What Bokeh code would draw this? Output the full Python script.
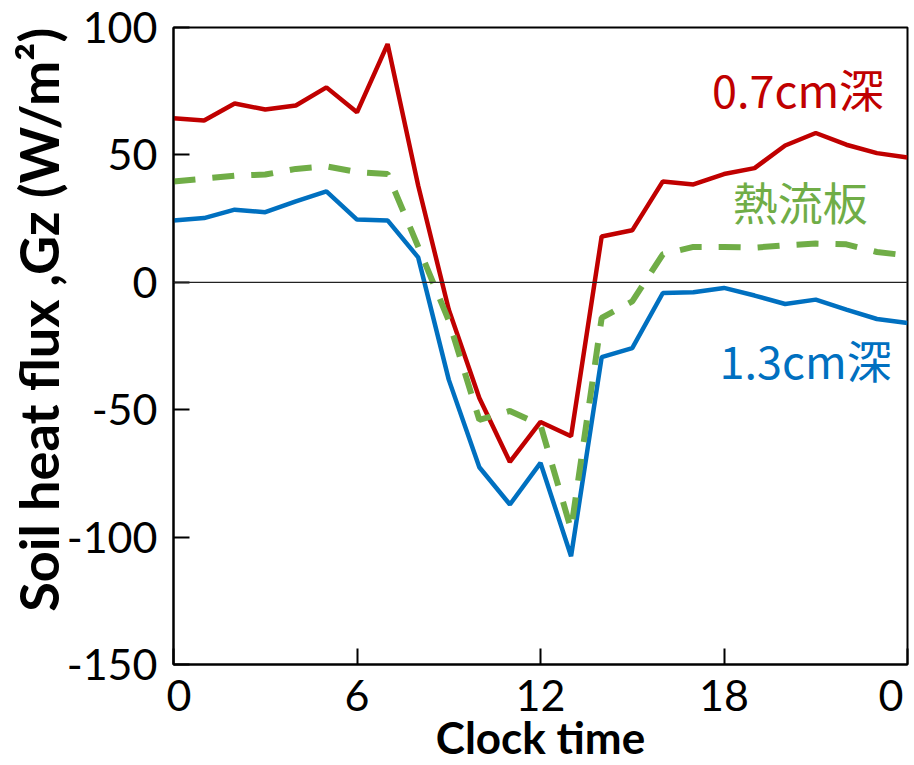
from bokeh.plotting import figure
from bokeh.models import Range1d, FixedTicker, Span, Label
from bokeh.embed import file_html
from bokeh.resources import INLINE

# ---- data ----
hours = list(range(25))
flux_07cm = [64.4, 63.5, 70.2, 67.8, 69.4, 76.5, 66.7, 93.5, 38.0, -10.7, -45.4, -70.5,
             -54.8, -60.4, 18.0, 20.4, 39.6, 38.4, 42.5, 44.8, 53.7, 58.6, 54.0, 50.7, 49.0]
flux_13cm = [24.3, 25.2, 28.5, 27.5, 31.8, 35.7, 24.6, 24.3, 9.8, -38.2, -72.6, -87.2,
             -70.9, -107.5, -29.4, -25.8, -4.2, -3.9, -2.2, -5.2, -8.5, -6.8, -10.7, -14.4, -16.0]
flux_plate = [39.6, 40.7, 41.8, 42.3, 44.5, 45.5, 43.3, 42.5, 14.0, -15.0, -54.0, -50.5,
              -56.0, -97.0, -14.0, -7.5, 11.0, 13.9, 13.9, 13.6, 14.5, 15.2, 14.9, 11.9, 10.5]
series_names = ["0.7cm深", "熱流板", "1.3cm深"]
x_ticks = [0, 6, 12, 18, 24]
x_tick_labels = ["\u00a00", "6", "12", "18", "0\u00a0"]
y_ticks = [-150, -100, -50, 0, 50, 100]
y_tick_labels = ["-150", "-100", "-50", "0", "50", "100"]
x_title = "Clock time"
y_title = "Soil heat flux ,Gz (W/m²)"

RED, BLUE, GREEN = "#C00000", "#0070C0", "#70AD47"
FONT = "Lato"

p = figure(width=914, height=765, output_backend="svg", toolbar_location=None,
           x_range=Range1d(0, 24), y_range=Range1d(-150, 100),
           min_border_left=173, min_border_right=7, min_border_top=27, min_border_bottom=101)
p.grid.visible = False
p.outline_line_color = "black"
p.outline_line_width = 2
p.background_fill_color = "white"
p.border_fill_color = "white"

for ax in (p.xaxis[0], p.yaxis[0]):
    ax.axis_line_width = 2
    ax.axis_line_color = "black"
    ax.major_tick_in = 16
    ax.major_tick_out = 0
    ax.major_tick_line_width = 2
    ax.major_tick_line_color = "black"
    ax.minor_tick_line_color = None
    ax.major_label_text_font = FONT
    ax.major_label_text_font_size = "43px"
    ax.major_label_text_color = "black"
    ax.axis_label_text_font = FONT
    ax.axis_label_text_font_style = "bold"
    ax.axis_label_text_color = "black"

p.xaxis.ticker = FixedTicker(ticks=x_ticks)
p.xaxis.major_label_overrides = dict(zip(x_ticks, x_tick_labels))
p.xaxis.major_label_standoff = 4
p.xaxis.axis_label = x_title
p.xaxis.axis_label_text_font_size = "44px"
p.xaxis.axis_label_standoff = -12

p.yaxis.ticker = FixedTicker(ticks=y_ticks)
p.yaxis.major_label_overrides = dict(zip(y_ticks, y_tick_labels))
p.yaxis.major_label_standoff = 16
# leading no-break spaces lift the title slightly above the frame centre, as in the reference
p.yaxis.axis_label = "\u00a0" * 4 + y_title
p.yaxis.axis_label_text_font_size = "54px"
p.yaxis.axis_label_standoff = -7

p.add_layout(Span(location=0, dimension="width", line_color="#222222", line_width=1.3))

p.line(hours, flux_07cm, line_color=RED, line_width=4.5)
p.line(hours, flux_13cm, line_color=BLUE, line_width=4.5)
p.line(hours, flux_plate, line_color=GREEN, line_width=6, line_dash="22 17")

cjk = "Noto Sans CJK JP"
p.add_layout(Label(x=20.42, y=76.0, text=series_names[0], text_font=cjk, text_font_size="45px",
                   text_color=RED, text_align="center", text_baseline="middle"))
p.add_layout(Label(x=20.49, y=31.8, text=series_names[1], text_font=cjk, text_font_size="45px",
                   text_color=GREEN, text_align="center", text_baseline="middle"))
p.add_layout(Label(x=20.67, y=-30.4, text=series_names[2], text_font=cjk, text_font_size="45px",
                   text_color=BLUE, text_align="center", text_baseline="middle"))

open("out.html", "w").write(file_html(p, INLINE))
